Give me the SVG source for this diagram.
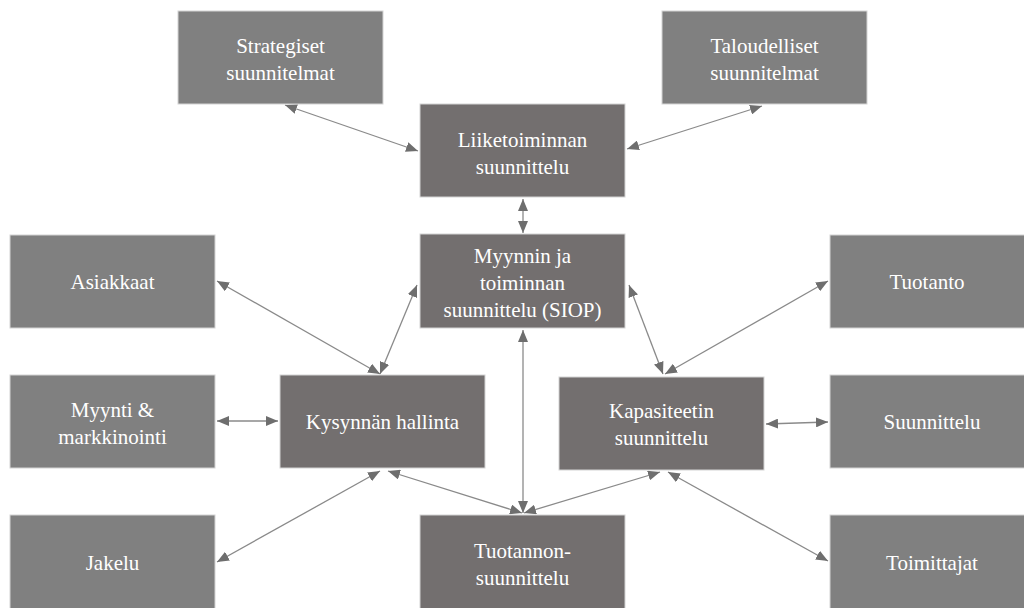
<svg xmlns="http://www.w3.org/2000/svg" width="1024" height="608" viewBox="0 0 1024 608">
  <style>
    .outer { fill: #808080; stroke: #d4d4d4; stroke-width: 1; }
    .core { fill: #736f6f; stroke: #d4d4d4; stroke-width: 1; }
    .lbl { fill: #ffffff; font-family: 'Liberation Serif', 'Times New Roman', Tinos, 'DejaVu Serif', serif; font-size: 21px; text-anchor: middle; }
    .link { stroke: #8a8a8a; stroke-width: 1.3; fill: none; marker-start: url(#tip); marker-end: url(#tip); }
  </style>
  <defs>
    <marker id="tip" markerUnits="userSpaceOnUse" markerWidth="12" markerHeight="10" refX="12" refY="5" orient="auto-start-reverse">
      <path d="M0,0 L12,5 L0,10 z" fill="#6e6e6e"/>
    </marker>
  </defs>
  <rect width="1024" height="608" fill="#ffffff"/>

  <!-- connectors -->
  <g id="connectors">
    <line class="link" x1="285" y1="105" x2="418" y2="151"/>
    <line class="link" x1="762" y1="106" x2="627" y2="149"/>
    <line class="link" x1="523" y1="199" x2="523" y2="233"/>
    <line class="link" x1="417" y1="285" x2="380" y2="374"/>
    <line class="link" x1="629" y1="285" x2="663" y2="374"/>
    <line class="link" x1="523" y1="330" x2="523" y2="513"/>
    <line class="link" x1="217" y1="281" x2="380" y2="374"/>
    <line class="link" x1="828" y1="281" x2="665" y2="374"/>
    <line class="link" x1="217" y1="421" x2="278" y2="421"/>
    <line class="link" x1="766" y1="424" x2="828" y2="422"/>
    <line class="link" x1="380" y1="471" x2="217" y2="562"/>
    <line class="link" x1="388" y1="471" x2="522" y2="513"/>
    <line class="link" x1="660" y1="472" x2="524" y2="513"/>
    <line class="link" x1="668" y1="472" x2="828" y2="561"/>
  </g>

  <!-- planning levels -->
  <g id="strategiset">
    <rect class="outer" x="178" y="11" width="205" height="93"/>
    <text class="lbl" x="280.5" y="53">Strategiset</text>
    <text class="lbl" x="280.5" y="80">suunnitelmat</text>
  </g>
  <g id="taloudelliset">
    <rect class="outer" x="662" y="11" width="205" height="93"/>
    <text class="lbl" x="764.5" y="53">Taloudelliset</text>
    <text class="lbl" x="764.5" y="80">suunnitelmat</text>
  </g>
  <g id="liiketoiminnan">
    <rect class="core" x="420" y="104" width="205" height="93"/>
    <text class="lbl" x="522.5" y="147">Liiketoiminnan</text>
    <text class="lbl" x="522.5" y="174">suunnittelu</text>
  </g>
  <g id="siop">
    <rect class="core" x="420" y="234" width="205" height="94"/>
    <text class="lbl" x="522.5" y="263">Myynnin ja</text>
    <text class="lbl" x="522.5" y="290">toiminnan</text>
    <text class="lbl" x="522.5" y="317">suunnittelu (SIOP)</text>
  </g>
  <g id="asiakkaat">
    <rect class="outer" x="10" y="235" width="205" height="93"/>
    <text class="lbl" x="112.5" y="289">Asiakkaat</text>
  </g>
  <g id="tuotanto">
    <rect class="outer" x="830" y="235" width="200" height="93"/>
    <text class="lbl" x="927" y="289">Tuotanto</text>
  </g>
  <g id="myynti">
    <rect class="outer" x="10" y="375" width="205" height="93"/>
    <text class="lbl" x="112.5" y="417">Myynti &amp;</text>
    <text class="lbl" x="112.5" y="444">markkinointi</text>
  </g>
  <g id="kysynnan">
    <rect class="core" x="280" y="375" width="205" height="93"/>
    <text class="lbl" x="382.5" y="429">Kysynnän hallinta</text>
  </g>
  <g id="kapasiteetin">
    <rect class="core" x="559" y="377" width="205" height="93"/>
    <text class="lbl" x="661.5" y="418">Kapasiteetin</text>
    <text class="lbl" x="661.5" y="445">suunnittelu</text>
  </g>
  <g id="suunnittelu">
    <rect class="outer" x="830" y="375" width="200" height="93"/>
    <text class="lbl" x="932" y="429">Suunnittelu</text>
  </g>
  <g id="jakelu">
    <rect class="outer" x="10" y="515" width="205" height="100"/>
    <text class="lbl" x="112.5" y="570">Jakelu</text>
  </g>
  <g id="tuotannon">
    <rect class="core" x="420" y="515" width="205" height="100"/>
    <text class="lbl" x="522.5" y="558">Tuotannon-</text>
    <text class="lbl" x="522.5" y="585">suunnittelu</text>
  </g>
  <g id="toimittajat">
    <rect class="outer" x="830" y="515" width="200" height="100"/>
    <text class="lbl" x="932" y="570">Toimittajat</text>
  </g>
</svg>
